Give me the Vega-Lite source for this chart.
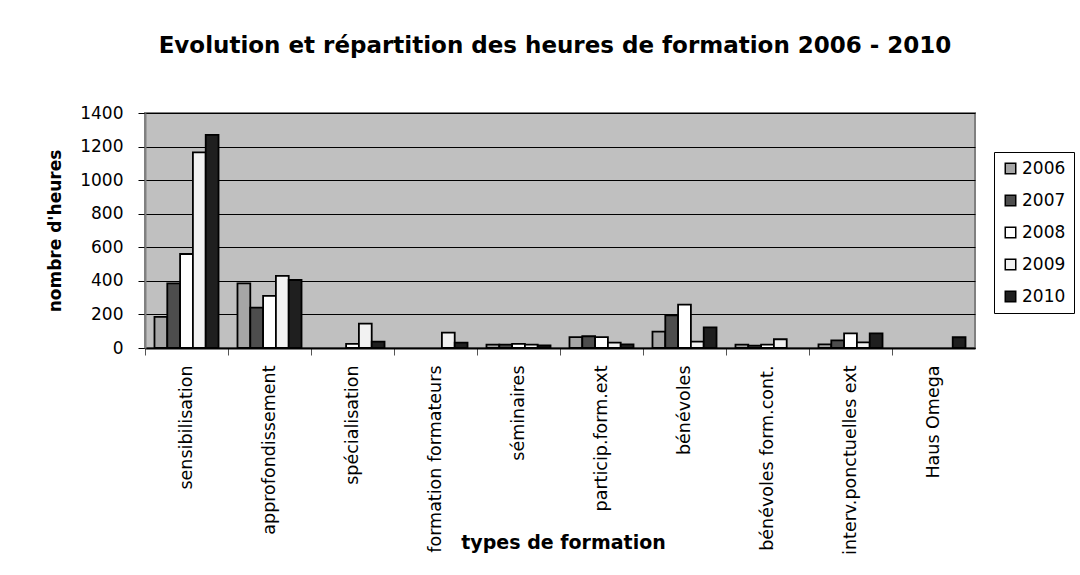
{
  "$schema": "https://vega.github.io/schema/vega-lite/v6.json",
  "autosize": "none",
  "width": 830,
  "height": 235,
  "padding": {"left": 145, "top": 113, "right": 105, "bottom": 227},
  "background": "white",
  "title": {
    "text": "Evolution et répartition des heures de formation 2006 - 2010",
    "font": "DejaVu Sans",
    "fontSize": 23,
    "fontWeight": "bold",
    "color": "black",
    "anchor": "middle",
    "baseline": "alphabetic",
    "offset": 28,
    "dx": -5
  },
  "data": {
    "values": [
      {"type": "sensibilisation", "year": "2006", "hours": 185},
      {"type": "sensibilisation", "year": "2007", "hours": 385},
      {"type": "sensibilisation", "year": "2008", "hours": 560},
      {"type": "sensibilisation", "year": "2009", "hours": 1165},
      {"type": "sensibilisation", "year": "2010", "hours": 1270},
      {"type": "approfondissement", "year": "2006", "hours": 385},
      {"type": "approfondissement", "year": "2007", "hours": 240},
      {"type": "approfondissement", "year": "2008", "hours": 310},
      {"type": "approfondissement", "year": "2009", "hours": 430},
      {"type": "approfondissement", "year": "2010", "hours": 405},
      {"type": "spécialisation", "year": "2008", "hours": 25},
      {"type": "spécialisation", "year": "2009", "hours": 145},
      {"type": "spécialisation", "year": "2010", "hours": 38},
      {"type": "formation formateurs", "year": "2009", "hours": 92},
      {"type": "formation formateurs", "year": "2010", "hours": 32},
      {"type": "séminaires", "year": "2006", "hours": 20},
      {"type": "séminaires", "year": "2007", "hours": 20},
      {"type": "séminaires", "year": "2008", "hours": 25},
      {"type": "séminaires", "year": "2009", "hours": 20},
      {"type": "séminaires", "year": "2010", "hours": 15},
      {"type": "particip.form.ext", "year": "2006", "hours": 65},
      {"type": "particip.form.ext", "year": "2007", "hours": 70},
      {"type": "particip.form.ext", "year": "2008", "hours": 65},
      {"type": "particip.form.ext", "year": "2009", "hours": 32},
      {"type": "particip.form.ext", "year": "2010", "hours": 22},
      {"type": "bénévoles", "year": "2006", "hours": 97},
      {"type": "bénévoles", "year": "2007", "hours": 195},
      {"type": "bénévoles", "year": "2008", "hours": 258},
      {"type": "bénévoles", "year": "2009", "hours": 38},
      {"type": "bénévoles", "year": "2010", "hours": 123},
      {"type": "bénévoles form.cont.", "year": "2006", "hours": 20},
      {"type": "bénévoles form.cont.", "year": "2007", "hours": 14},
      {"type": "bénévoles form.cont.", "year": "2008", "hours": 20},
      {"type": "bénévoles form.cont.", "year": "2009", "hours": 52},
      {"type": "interv.ponctuelles ext", "year": "2006", "hours": 22},
      {"type": "interv.ponctuelles ext", "year": "2007", "hours": 46},
      {"type": "interv.ponctuelles ext", "year": "2008", "hours": 87},
      {"type": "interv.ponctuelles ext", "year": "2009", "hours": 34},
      {"type": "interv.ponctuelles ext", "year": "2010", "hours": 87},
      {"type": "Haus Omega", "year": "2010", "hours": 64}
    ]
  },
  "mark": {"type": "bar", "stroke": "black", "strokeWidth": 1.8},
  "encoding": {
    "x": {
      "field": "type",
      "type": "nominal",
      "sort": ["sensibilisation", "approfondissement", "spécialisation", "formation formateurs", "séminaires", "particip.form.ext", "bénévoles", "bénévoles form.cont.", "interv.ponctuelles ext", "Haus Omega"],
      "scale": {"paddingInner": 0, "paddingOuter": 0},
      "axis": {
        "title": "types de formation",
        "titleFont": "DejaVu Sans",
        "titleFontSize": 19,
        "titleFontWeight": "bold",
        "titleColor": "black",
        "titleY": 200,
        "titleBaseline": "alphabetic",
        "titleX": 418,
        "labelAngle": -90,
        "labelFont": "DejaVu Sans",
        "labelFontSize": 17.5,
        "labelColor": "black",
        "labelPadding": 10,
        "labelLimit": 300,
        "tickOffset": -41.5,
        "labelOffset": 41.5,
        "tickColor": "#555555",
        "tickSize": 7,
        "tickWidth": 1,
        "domainColor": "black",
        "domainWidth": 2,
        "grid": false
      }
    },
    "xOffset": {
      "field": "year",
      "type": "nominal",
      "scale": {"paddingInner": 0, "paddingOuter": 0.74}
    },
    "y": {
      "field": "hours",
      "type": "quantitative",
      "scale": {"domain": [0, 1400], "nice": false},
      "axis": {
        "title": "nombre d'heures",
        "titleFont": "DejaVu Sans",
        "titleFontSize": 17,
        "titleFontWeight": "bold",
        "titleColor": "black",
        "titleX": -90,
        "titleBaseline": "middle",
        "values": [0, 200, 400, 600, 800, 1000, 1200, 1400],
        "format": "d",
        "labelFont": "DejaVu Sans",
        "labelFontSize": 17,
        "labelColor": "black",
        "labelPadding": 15,
        "tickColor": "black",
        "tickSize": 7,
        "domainColor": "#808080",
        "domainWidth": 2,
        "gridColor": "black",
        "gridWidth": 1.2,
        "gridOpacity": 1
      }
    },
    "fill": {
      "field": "year",
      "type": "nominal",
      "scale": {
        "domain": ["2006", "2007", "2008", "2009", "2010"],
        "range": ["#a6a6a6", "#4d4d4d", "#ffffff", "#f2f2f2", "#1f1f1f"]
      },
      "legend": {
        "title": null,
        "orient": "none",
        "legendX": 849,
        "legendY": 39,
        "strokeColor": "black",
        "fillColor": "white",
        "padding": 8,
        "symbolType": "square",
        "symbolSize": 110,
        "symbolStrokeColor": "black",
        "symbolStrokeWidth": 1.5,
        "labelFont": "DejaVu Sans",
        "labelFontSize": 17,
        "labelColor": "black",
        "rowPadding": 14,
        "labelOffset": 3
      }
    }
  },
  "config": {
    "view": {"fill": "#c0c0c0", "stroke": "#808080", "strokeWidth": 2}
  }
}
